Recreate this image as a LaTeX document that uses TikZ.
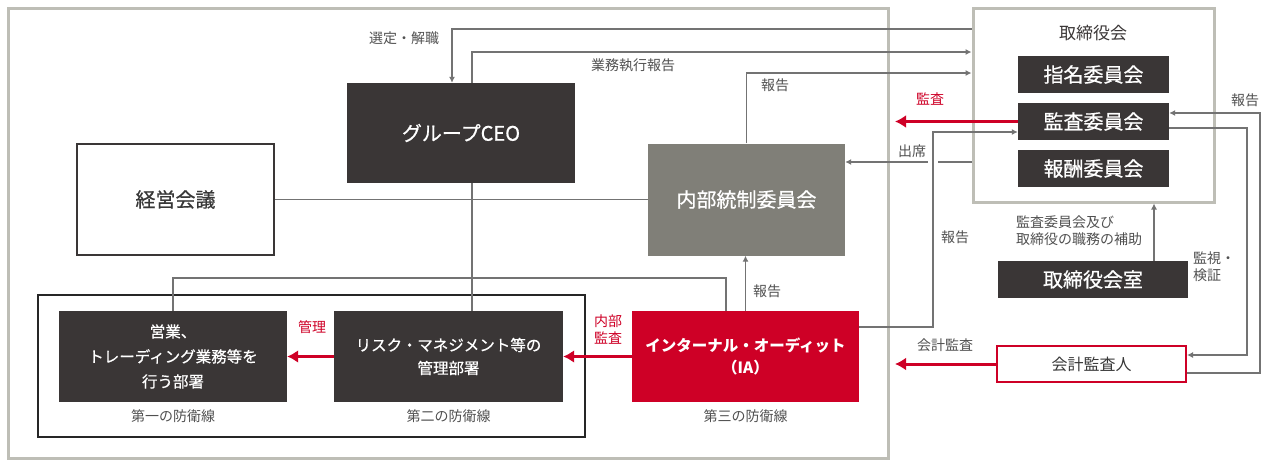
\documentclass[tikz,border=0pt]{standalone}
\usepackage{fontspec}
\setmainfont{Noto Sans CJK JP}
\newfontfamily\medfont{Noto Sans CJK JP}[FakeBold=0.6]
\usetikzlibrary{positioning,arrows.meta}

\definecolor{framegray}{RGB}{190,190,182}
\definecolor{boxdark}{RGB}{58,54,54}
\definecolor{boxgray}{RGB}{128,127,120}
\definecolor{iared}{RGB}{206,0,38}
\definecolor{linegray}{RGB}{115,115,115}
\definecolor{textgray}{RGB}{80,80,80}

\begin{document}
\begin{tikzpicture}[
  x=1pt, y=-1pt,
  dims/.style 2 args={minimum width=#1pt,minimum height=#2pt},
  frame/.style={draw=framegray,line width=3pt,inner sep=0pt},
  darkbox/.style={fill=boxdark,text=white,inner sep=0pt,align=center,font=\fontsize{20}{24}\medfont},
  smallbox/.style={darkbox,font=\fontsize{15.5}{25}\medfont},
  lbl/.style={text=textgray,inner sep=1pt,align=center,font=\fontsize{14}{17}\selectfont},
  redlbl/.style={lbl,text=iared},
  conn/.style={draw=linegray,line width=1.1pt},
  arr/.style={conn,-{Latex[length=6pt,width=6pt]}},
  redarr/.style={draw=iared,line width=3pt,-{Latex[length=11pt,width=13pt]}}
  ]
\useasboundingbox (0,0) rectangle (1266,461);

% frames
\node[frame,dims={880}{450}] (group) at (448,233) {};
\node[frame,dims={241}{194}] (board) at (1093.5,105) {};
\node[draw=black!85,line width=2.5pt,inner sep=0pt,dims={547}{142}] (lines) at (311.5,366) {};

% executive side
\node[darkbox,dims={228}{100}] (ceo) at (461,133) {グループCEO};
\node[draw=boxdark,line width=2.2pt,inner sep=0pt,text=textgray!70!black,
  font=\fontsize{20}{24}\medfont,dims={197}{111}] (keiei) at (175.5,199.5) {経営会議};
\node[darkbox,fill=boxgray,dims={197}{112}] (naibu) at (746.5,199.5) {内部統制委員会};

\node[smallbox,dims={228}{91}] (eigyo) at (173,356.5) {営業、\\トレーディング業務等を\\行う部署};
\node[smallbox,font=\fontsize{15.5}{23}\medfont,dims={229}{91}] (risk) at (448.5,356.5) {リスク・マネジメント等の\\管理部署};
\node[smallbox,fill=iared,font=\fontsize{15.5}{22}\selectfont\bfseries,dims={227}{91}] (ia) at (745.5,356.5) {インターナル・オーディット\\（IA）};

\node[lbl,below=6pt of eigyo] (def1) {第一の防衛線};
\node[lbl,below=6pt of risk] (def2) {第二の防衛線};
\node[lbl,below=6pt of ia] (def3) {第三の防衛線};

% board side
\node[lbl,text=boxdark,font=\fontsize{17}{20}\selectfont] (boardttl) at (1093,33) {取締役会};
\node[darkbox,dims={151}{37}] (shimei) at (1093.5,74.5) {指名委員会};
\node[darkbox,dims={151}{37}] (kansa) at (1093.5,121.5) {監査委員会};
\node[darkbox,dims={151}{37}] (hoshu) at (1093.5,168.5) {報酬委員会};
\node[darkbox,dims={190}{37}] (shitsu) at (1093,279.5) {取締役会室};
\node[draw=iared,line width=2pt,fill=white,text=textgray!70!black,inner sep=0pt,
  font=\fontsize{16}{20}\selectfont,dims={189}{36}] (kaikei) at (1091.5,364) {会計監査人};

% turning points
\coordinate (sentei) at (452,29);
\coordinate (spine) at (472,52);
\coordinate (naibutop) at (746.5,73);
\coordinate (rep) at (933,132);
\coordinate (watch) at (1247,128);
\coordinate (back) at (1260,113);
\coordinate (link) at (726,278);
\coordinate (redend) at (895,0);

% connectors
\draw[conn] (keiei.east) -- (naibu.west);
\draw[conn] (ceo.south -| spine) -- (risk.north -| spine);
\draw[conn] (eigyo.north) |- (link) -- (link |- ia.north);
\draw[arr] (board.west |- sentei) -- (sentei) -- (sentei |- ceo.north);
\draw[arr] (spine |- ceo.north) -- (spine) -- (spine -| board.west);
\draw[arr] (naibu.north) -- (naibutop) -- (naibutop -| board.west);
\draw[arr] (ia.north) -- (ia.north |- naibu.south);
\draw[arr] (board.west |- 0,162) -- (naibu.east |- 0,162);
\draw[white,line width=4pt] (rep |- 0,162) ++(-5,0) -- ++(10,0);
\draw[arr] (ia.east |- 0,327) -| (rep) -- (rep -| kansa.west);
\draw[arr] (kansa.east |- watch) -- (watch) |- (kaikei.east |- 0,355);
\draw[arr] (kaikei.east |- 0,373) -| (back) -- (back -| kansa.east);
\draw[arr] (shitsu.north -| 1154,0) -- (board.south -| 1154,0);

\draw[redarr] (kansa.west) -- (redend |- kansa.west);
\draw[redarr] (kaikei.west) -- (redend |- kaikei.west);
\draw[redarr] (risk.west) -- (eigyo.east);
\draw[redarr] (ia.west) -- (risk.east);

% connector labels
\node[lbl] (lsentei) at (404,38) {選定・解職};
\node[lbl] (lgyomu) at (633,65) {業務執行報告};
\node[lbl] (lrep1) at (775,85) {報告};
\node[lbl] (lshusseki) at (912,151) {出席};
\node[redlbl] (lkansa) at (930,99) {監査};
\node[lbl] (lrep2) at (955,237) {報告};
\node[lbl] (lrep3) at (1245,100) {報告};
\node[lbl,align=left] (lwatch) at (1214,267) {監視・\\検証};
\node[lbl] (lkaikei) at (945,345) {会計監査};
\node[lbl,align=left] (lhojo) at (1079,231) {監査委員会及び\\取締役の職務の補助};
\node[redlbl] (lkanri) at (312,327) {管理};
\node[redlbl] (lnaibu) at (608,330) {内部\\監査};
\node[lbl] (lrep4) at (767,291) {報告};
\end{tikzpicture}
\end{document}
